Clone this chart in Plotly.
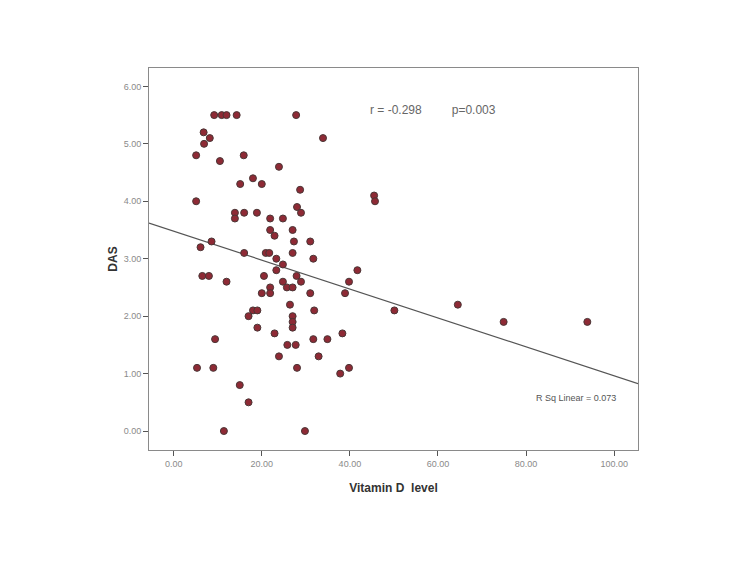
import plotly.graph_objects as go

# Vitamin D level vs DAS
vitamin_d = [9.2, 10.9, 12.0, 14.3, 27.8,
             6.8, 8.2, 6.9, 5.1, 15.9, 10.5, 23.9, 33.9, 18.0, 15.1, 20.0, 28.7,
             45.5, 45.7, 5.1, 13.9, 13.9, 16.0, 18.9, 28.0, 28.9, 21.9, 24.8,
             21.9, 22.9, 27.0, 27.3, 31.0, 8.6, 6.1, 16.0, 20.9, 21.7, 27.0,
             23.3, 31.7, 24.8, 23.3, 41.7, 6.5, 8.0, 20.5, 27.9, 12.0, 24.8,
             28.9, 39.8, 21.9, 25.7, 27.0, 20.0, 21.9, 31.0, 38.9, 26.4, 64.5,
             18.0, 19.0, 31.9, 50.1, 17.0, 27.0, 27.0, 27.0, 74.9, 93.9, 19.0,
             22.9, 38.3, 9.4, 31.7, 34.9, 25.8, 27.7, 23.9, 32.9, 5.3, 9.0,
             28.0, 39.8, 37.8, 15.0, 17.0, 11.4, 29.8]
das = [5.50, 5.50, 5.50, 5.50, 5.50,
       5.20, 5.10, 5.00, 4.80, 4.80, 4.70, 4.60, 5.10, 4.40, 4.30, 4.30, 4.20,
       4.10, 4.00, 4.00, 3.80, 3.70, 3.80, 3.80, 3.90, 3.80, 3.70, 3.70,
       3.50, 3.40, 3.50, 3.30, 3.30, 3.30, 3.20, 3.10, 3.10, 3.10, 3.10,
       3.00, 3.00, 2.90, 2.80, 2.80, 2.70, 2.70, 2.70, 2.70, 2.60, 2.60,
       2.60, 2.60, 2.50, 2.50, 2.50, 2.40, 2.40, 2.40, 2.40, 2.20, 2.20,
       2.10, 2.10, 2.10, 2.10, 2.00, 2.00, 1.90, 1.80, 1.90, 1.90, 1.80,
       1.70, 1.70, 1.60, 1.60, 1.60, 1.50, 1.50, 1.30, 1.30, 1.10, 1.10,
       1.10, 1.10, 1.00, 0.80, 0.50, 0.00, 0.00]

# linear fit as drawn in the figure
fit_intercept = 3.48
fit_slope = -0.0252
x_range = [-5.6, 105.4]
y_range = [-0.33, 6.32]

x_ticks = [0, 20, 40, 60, 80, 100]
y_ticks = [0, 1, 2, 3, 4, 5, 6]

fig = go.Figure()

fig.add_trace(go.Scatter(
    x=x_range, y=[fit_intercept + fit_slope * x for x in x_range],
    mode="lines", line=dict(color="#555555", width=1.2),
    hoverinfo="skip", showlegend=False))

fig.add_trace(go.Scatter(
    x=vitamin_d, y=das, mode="markers",
    marker=dict(size=7, color="#8e2a35", line=dict(color="#4a3636", width=1)),
    showlegend=False))

axis_common = dict(
    showgrid=False, zeroline=False, showline=True, linecolor="#8a8a8a", linewidth=1,
    mirror=True, ticks="outside", ticklen=5, tickcolor="#555555",
    tickfont=dict(family="Liberation Sans, Arial", size=9, color="#8a8a8a"),
    tickformat=".2f")

fig.update_xaxes(range=x_range, tickvals=x_ticks,
                 title=dict(text="<b>Vitamin D  level</b>", standoff=15,
                            font=dict(family="Liberation Sans, Arial", size=12, color="#333333")),
                 **axis_common)
fig.update_yaxes(range=y_range, tickvals=y_ticks,
                 title=dict(text="<b>DAS</b>", standoff=3,
                            font=dict(family="Liberation Sans, Arial", size=12, color="#333333")),
                 **axis_common)

fig.add_annotation(x=0.448, y=0.89, xref="paper", yref="paper",
                   xanchor="left", yanchor="middle",
                   text="r = -0.298" + "&nbsp;" * 9 + "p=0.003", showarrow=False,
                   font=dict(family="Liberation Sans, Arial", size=12, color="#666666"))
fig.add_annotation(x=0.959, y=0.136, xref="paper", yref="paper",
                   xanchor="right", yanchor="middle",
                   text="R Sq Linear = 0.073", showarrow=False,
                   font=dict(family="Liberation Sans, Arial", size=9, color="#555555"))

fig.update_layout(
    width=750, height=563,
    margin=dict(l=141, r=120, t=60, b=121),
    paper_bgcolor="white", plot_bgcolor="white")

fig.write_html("out.html")
